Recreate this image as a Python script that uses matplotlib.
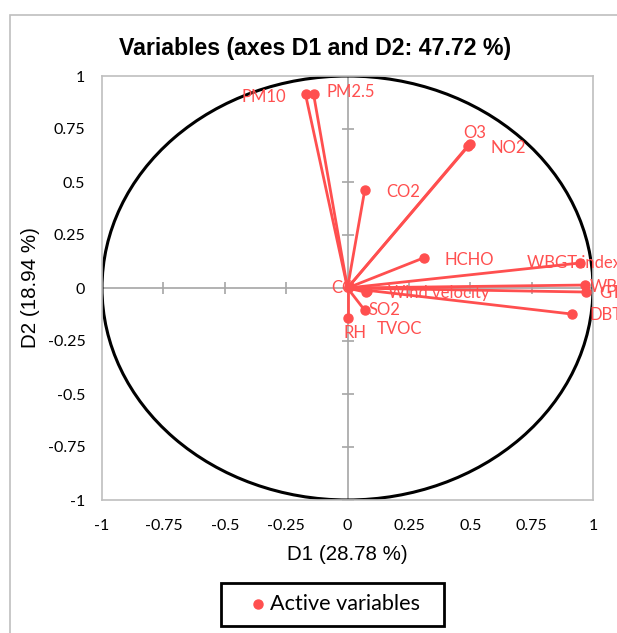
import matplotlib
matplotlib.use('Agg')
import matplotlib.pyplot as plt
from matplotlib.patches import Circle, Rectangle
from matplotlib.lines import Line2D

# loadings on D1 / D2
variables = ['PM10', 'PM2.5', 'O3', 'NO2', 'CO2', 'HCHO', 'WBGT index', 'WBT',
             'GT', 'DBT', 'Wind velocity', 'TVOC', 'CO', 'SO2', 'RH']
d1 = [-0.171, -0.138, 0.500, 0.490, 0.070, 0.310, 0.947, 0.967,
      0.972, 0.915, 0.080, 0.075, 0.005, 0.070, 0.000]
d2 = [0.913, 0.913, 0.680, 0.670, 0.460, 0.142, 0.118, 0.014,
      -0.019, -0.123, -0.012, -0.020, 0.005, -0.105, -0.140]
ticks = [-1, -0.75, -0.5, -0.25, 0, 0.25, 0.5, 0.75, 1]
tick_labels = ['-1', '-0.75', '-0.5', '-0.25', '0', '0.25', '0.5', '0.75', '1']

# label placement (pixel offsets, horizontal alignment)
label_pos = {
    'PM10': (-19, -3, 'right'), 'PM2.5': (13, 2, 'left'), 'O3': (4, 11, 'center'),
    'NO2': (23, -2, 'left'), 'CO2': (22, -2, 'left'), 'HCHO': (21, -2, 'left'),
    'WBGT index': (-53, 0, 'left'), 'WBT': (5, -2, 'left'), 'GT': (13, -1, 'left'),
    'DBT': (17, -1, 'left'), 'Wind velocity': (21, -2, 'left'),
    'TVOC': (11, -37, 'left'), 'CO': (-17, -1, 'left'), 'SO2': (4, 0, 'left'),
    'RH': (-4, -15, 'left'),
}

red = '#FF4F4F'
grey = '#BFBFBF'

fig = plt.figure(figsize=(6.17, 6.33), dpi=100)
ax = fig.add_axes([102 / 617, 1 - 500 / 633, 491 / 617, 424 / 633])

# chart area border (cropped on right / bottom)
fig.patches.append(Rectangle((10 / 617, -0.1), 1.2, 1 - 15 / 633 + 0.1,
                             transform=fig.transFigure, fill=False,
                             edgecolor=grey, lw=1.2))

ax.set_xlim(-1, 1)
ax.set_ylim(-1, 1)
for s in ax.spines.values():
    s.set_color(grey)
    s.set_linewidth(1.2)

ax.set_xticks(ticks)
ax.set_xticklabels(tick_labels)
ax.set_yticks(ticks)
ax.set_yticklabels(tick_labels)
ax.tick_params(length=0, labelsize=11.5, pad=0)
ax.tick_params(axis='x', pad=14)
ax.tick_params(axis='y', pad=12)
for t in ax.get_xticklabels() + ax.get_yticklabels():
    t.set_family('Lato')

# center axes with tick marks
ax.axhline(0, color='#A6A6A6', lw=1.2, zorder=1)
ax.axvline(0, color='#A6A6A6', lw=1.2, zorder=1)
ax.plot(ticks, [0] * len(ticks), ls='none', marker='|', ms=9, mew=1.2, color='#A6A6A6', zorder=1)
ax.plot([0] * len(ticks), ticks, ls='none', marker='_', ms=9, mew=1.2, color='#A6A6A6', zorder=1)

ax.add_patch(Circle((0, 0), 1, fill=False, edgecolor='black', lw=2.2, zorder=2))

for name, x, y in zip(variables, d1, d2):
    ax.plot([0, x], [0, y], color=red, lw=2, zorder=3, clip_on=False)
    ax.plot(x, y, 'o', color=red, ms=6.5, zorder=4, clip_on=False)
    dx, dy, ha = label_pos[name]
    ax.annotate(name, (x, y), xytext=(dx, dy), textcoords='offset pixels',
                ha=ha, va='center', color=red, fontsize=12, family='Lato',
                annotation_clip=False, zorder=5)

fig.text(315 / 617, 1 - 48 / 633, 'Variables (axes D1 and D2: 47.72 %)',
         ha='center', va='center', fontsize=16.7, fontweight='bold',
         family='Liberation Sans')
fig.text(347 / 617, 1 - 554 / 633, 'D1 (28.78 %)', ha='center', va='center',
         fontsize=14.8, family='Liberation Sans')
fig.text(30 / 617, 1 - 288 / 633, 'D2 (18.94 %)', ha='center', va='center',
         rotation=90, fontsize=14.8, family='Liberation Sans')

# legend box
fig.patches.append(Rectangle((221 / 617, 1 - 626 / 633), 223 / 617, 43 / 633,
                             transform=fig.transFigure, fill=False,
                             edgecolor='black', lw=2))
fig.lines.append(Line2D([258 / 617], [1 - 604 / 633], transform=fig.transFigure,
                        marker='o', color=red, ms=6.5, ls='none'))
fig.text(270 / 617, 1 - 604 / 633, 'Active variables', ha='left', va='center',
         fontsize=15.6, family='Lato')

fig.savefig('out.png', dpi=100)
